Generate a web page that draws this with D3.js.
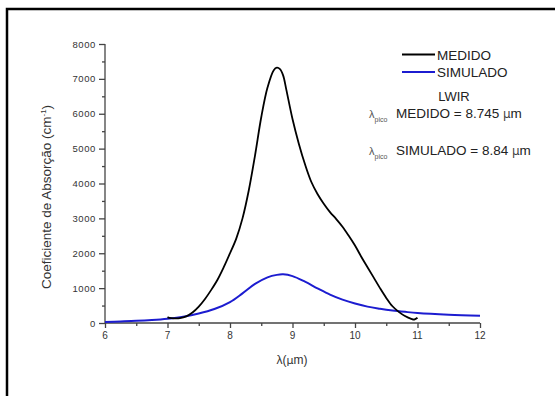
<!DOCTYPE html>
<html><head><meta charset="utf-8">
<script src="https://cdn.jsdelivr.net/npm/d3@7"></script>
<style>html,body{margin:0;padding:0;background:#fff;}svg{display:block;font-family:"Liberation Sans",Arial,sans-serif;}</style>
</head><body>
<svg id="c" width="555" height="396"></svg>
<script>
const medidoX = [7.00,7.03,7.1,7.2,7.3,7.4,7.5,7.6,7.7,7.8,7.9,8.0,8.1,8.2,8.3,8.4,8.5,8.6,8.7,8.75,8.8,8.85,8.9,9.0,9.1,9.2,9.3,9.4,9.5,9.6,9.7,9.8,9.9,10.0,10.1,10.2,10.3,10.4,10.5,10.6,10.7,10.8,10.9,10.95,11.0];
const medidoY = [170,150,135,140,190,300,470,690,950,1240,1600,2000,2420,3000,3800,4800,5900,6750,7250,7320,7280,7100,6700,5850,5150,4550,4050,3700,3420,3180,2980,2760,2500,2220,1900,1600,1300,1000,720,480,320,200,120,100,150];
const simuladoX = [6.0,6.25,6.5,6.75,7.0,7.25,7.5,7.75,8.0,8.2,8.4,8.6,8.75,8.85,9.0,9.2,9.4,9.6,9.8,10.0,10.2,10.4,10.6,10.8,11.0,11.5,12.0];
const simuladoY = [30,45,62,88,125,180,270,400,600,850,1120,1310,1380,1395,1345,1185,995,815,670,560,470,410,360,320,285,235,205];
const xTicks = [6,7,8,9,10,11,12];
const yTicks = [0,1000,2000,3000,4000,5000,6000,7000,8000];
const legendLabels = ["MEDIDO","SIMULADO"];
const colors = ["#000000","#1c1cd0"];

const svg = d3.select("#c");
// frame
svg.append("rect").attr("x",7).attr("y",9).attr("width",560).attr("height",400)
  .attr("fill","none").attr("stroke","#000").attr("stroke-width",2.5);

const x = d3.scaleLinear().domain([6,12]).range([105,480]);
const y = d3.scaleLinear().domain([0,8000]).range([323,44]);
const axisCol = "#444";

// x axis
const gx = svg.append("g").attr("transform","translate(0,323)");
gx.call(d3.axisBottom(x).tickValues(d3.range(6,12.01,0.5)).tickSize(3).tickFormat(""));
gx.call(g=>g.selectAll(".tick line").filter(d=>Number.isInteger(d)).attr("y2",5));
gx.selectAll("path,line").attr("stroke",axisCol).attr("stroke-width",1.3);
gx.select(".domain").attr("d","M105,0H480");
gx.selectAll(".lbl").data(xTicks).enter().append("text")
  .attr("x",d=>x(d)).attr("y",16).attr("text-anchor","middle")
  .attr("font-size",10).attr("fill","#333").text(d=>d);

// y axis
const gy = svg.append("g").attr("transform","translate(105,0)");
gy.call(d3.axisLeft(y).tickValues(d3.range(0,8001,500)).tickSize(3).tickFormat(""));
gy.call(g=>g.selectAll(".tick line").filter(d=>d%1000===0).attr("x2",-6));
gy.selectAll("path,line").attr("stroke",axisCol).attr("stroke-width",1.3);
gy.select(".domain").attr("d","M0,44V323");
gy.selectAll(".lbl").data(yTicks).enter().append("text")
  .attr("x",-9).attr("y",d=>y(d)+3.5).attr("text-anchor","end")
  .attr("font-size",9.5).attr("letter-spacing",0.6).attr("fill","#333").text(d=>d);

// axis titles
const yt = svg.append("text").attr("transform","translate(51,197) rotate(-90)")
  .attr("text-anchor","middle").attr("font-size",13.5).attr("fill","#333");
yt.append("tspan").text("Coeficiente de Absorção (cm");
yt.append("tspan").attr("font-size",8).attr("dy",-5).text("-1");
yt.append("tspan").attr("dy",5).text(")");

const xt = svg.append("text").attr("x",292).attr("y",364).attr("text-anchor","middle")
  .attr("font-size",12).attr("fill","#333");
xt.append("tspan").text("λ(");
xt.append("tspan").attr("font-family","'DejaVu Sans'").attr("font-size",11).text("µ");
xt.append("tspan").text("m)");

// lines
const line = d3.line().x(d=>x(d[0])).y(d=>y(d[1])).curve(d3.curveCatmullRom.alpha(0.5));
const blue = simuladoX.map((v,i)=>[v,simuladoY[i]]);
const black = medidoX.map((v,i)=>[v,medidoY[i]]);
svg.append("path").attr("d",line(blue)).attr("fill","none").attr("stroke",colors[1]).attr("stroke-width",2);
svg.append("path").attr("d",line(black)).attr("fill","none").attr("stroke",colors[0]).attr("stroke-width",1.8);

// legend
legendLabels.forEach((l,i)=>{
  const yy = 54.5 + i*17.5;
  svg.append("line").attr("x1",402).attr("x2",435).attr("y1",yy).attr("y2",yy)
    .attr("stroke",colors[i]).attr("stroke-width",2);
  svg.append("text").attr("x",437).attr("y",yy+5).attr("font-size",13.5).attr("fill","#222").text(l);
});

svg.append("text").attr("x",454).attr("y",100.5).attr("text-anchor","middle")
  .attr("font-size",13).attr("fill","#222").text("LWIR");

function peakLine(yb, label){
  const t = svg.append("text").attr("x",369).attr("y",yb).attr("font-size",13.5).attr("fill","#222");
  t.append("tspan").attr("font-size",11).attr("fill","#555").text("λ");
  t.append("tspan").attr("font-size",7).attr("dy",4).attr("fill","#555").text("pico");
  t.append("tspan").attr("dy",-4).attr("x",396).text(label);
  t.append("tspan").attr("font-family","'DejaVu Sans'").attr("font-size",12).attr("fill","#444").text("µ");
  t.append("tspan").text("m");
}
peakLine(117.5, "MEDIDO = 8.745 ");
peakLine(155, "SIMULADO = 8.84 ");
</script>
</body></html>
